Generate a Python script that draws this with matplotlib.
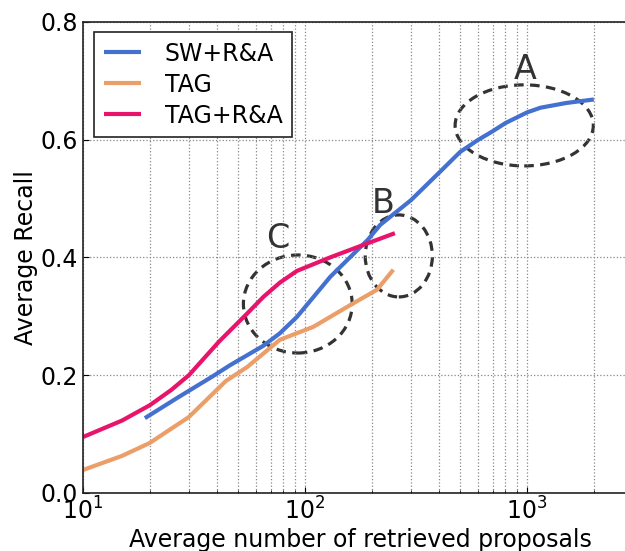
import matplotlib
matplotlib.use('Agg')
import matplotlib.pyplot as plt
from matplotlib.patches import Ellipse

# Recall curves (number of proposals -> average recall)
sw_x = [19, 27, 38, 46, 65, 77, 92, 130, 192, 218, 300, 400, 500, 600, 700, 800, 1000, 1150, 1500, 2000]
sw_y = [0.127, 0.163, 0.197, 0.217, 0.25, 0.271, 0.299, 0.367, 0.43, 0.455, 0.497, 0.543, 0.579,
        0.599, 0.614, 0.628, 0.646, 0.654, 0.662, 0.668]

tag_x = [10, 15, 20, 30, 44, 55, 77, 109, 155, 211, 250]
tag_y = [0.039, 0.063, 0.085, 0.129, 0.19, 0.214, 0.26, 0.282, 0.316, 0.345, 0.379]

tagra_x = [10, 15, 20, 25, 30, 41, 55, 65, 77, 92, 130, 192, 254]
tagra_y = [0.095, 0.123, 0.149, 0.175, 0.200, 0.257, 0.305, 0.333, 0.357, 0.377, 0.40, 0.424, 0.441]

labels = ['SW+R&A', 'TAG', 'TAG+R&A']
colors = ['#4470d0', '#eb9e67', '#e8146c']

# highlighted regions: letter, ellipse centre / size, letter position (axes fraction)
regions = [
    ('A', (0.795, 0.780), 0.249, 0.172, (0.796, 0.898)),
    ('B', (0.569, 0.503), 0.121, 0.174, (0.541, 0.615)),
    ('C', (0.387, 0.401), 0.196, 0.208, (0.351, 0.541)),
]

plt.rcParams['font.family'] = 'DejaVu Sans'
plt.rcParams['font.size'] = 17

fig = plt.figure(figsize=(6.25, 5.51), dpi=100)
ax = fig.add_axes([0.1328, 0.1053, 0.888, 0.8553])

for xs, ys, lab, c in zip([sw_x, tag_x, tagra_x], [sw_y, tag_y, tagra_y], labels, colors):
    ax.plot(xs, ys, color=c, linewidth=3, label=lab, solid_capstyle='butt')

ax.set_xscale('log')
ax.set_xlim(10, 10 ** 3.5)
ax.set_ylim(0, 0.8)
ax.set_yticks([0.0, 0.2, 0.4, 0.6, 0.8])
ax.grid(True, which='both', axis='x', linestyle=':', color='#888888', linewidth=0.9)
ax.grid(True, which='major', axis='y', linestyle=':', color='#888888', linewidth=0.9)
ax.tick_params(which='both', direction='in', length=4)
ax.tick_params(which='minor', length=2)

for sp in ax.spines.values():
    sp.set_color('#222222')
    sp.set_linewidth(1.2)
ax.spines['right'].set_visible(False)

ax.set_xlabel('Average number of retrieved proposals', labelpad=2)
ax.set_ylabel('Average Recall', labelpad=2)

for letter, cen, w, h, tpos in regions:
    ax.add_patch(Ellipse(cen, w, h, transform=ax.transAxes, fill=False,
                         edgecolor='#333333', linestyle=(0, (3, 2)), linewidth=2.3))
    ax.text(tpos[0], tpos[1], letter, transform=ax.transAxes, fontsize=24,
            color='#333333', ha='center', va='center')

leg = ax.legend(loc='upper left', bbox_to_anchor=(0.02, 0.978), borderaxespad=0,
                fancybox=False, framealpha=1, edgecolor='#222222',
                handlelength=1.6, handletextpad=1.0, fontsize=17, labelspacing=0.3)
leg.get_frame().set_linewidth(1.2)

fig.savefig('out.png', dpi=100)
